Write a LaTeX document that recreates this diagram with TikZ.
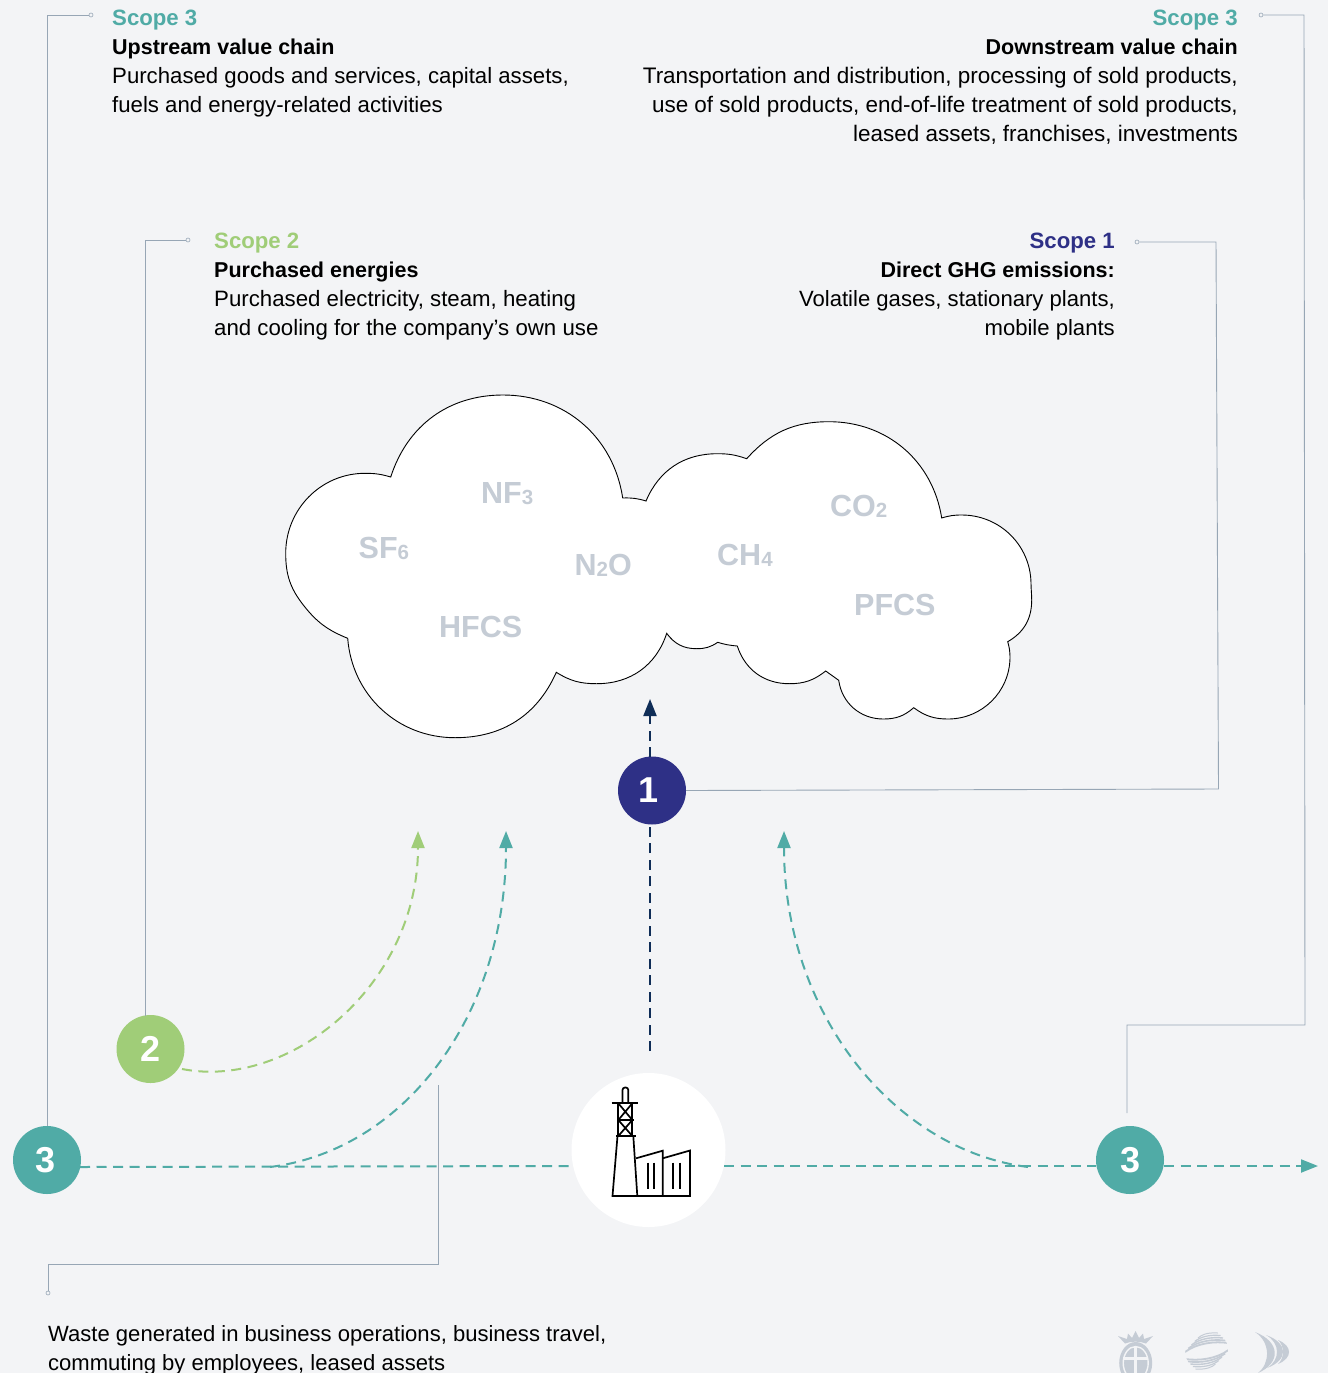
\documentclass[tikz,border=0pt]{standalone}
\usepackage{fontspec}
\setmainfont{Liberation Sans}
\usetikzlibrary{arrows.meta}
\definecolor{bgc}{HTML}{F3F4F6}
\definecolor{teal3}{HTML}{50ABA6}
\definecolor{green2}{HTML}{A0CD78}
\definecolor{navy1}{HTML}{2E3086}
\definecolor{navyd}{HTML}{0F2D57}
\definecolor{leader}{HTML}{97A6B5}
\definecolor{gasc}{HTML}{C5CCD5}
\newcommand{\bodysize}[1]{\fontsize{#1}{29}\selectfont}
\newcommand{\bb}[1]{{\fontsize{21.5}{29}\selectfont\bfseries #1}}
\newcommand{\scp}[2]{{\color{#1}\fontsize{22.2}{29}\selectfont\bfseries #2}}
\newcommand{\gassub}[1]{{\fontsize{20.5}{20}\selectfont\raisebox{-1pt}{#1}}}
\tikzset{
  x=1pt,y=1pt,
  block/.style={inner sep=0pt,text=black},
  blockL/.style={block,anchor=north west,align=left},
  blockR/.style={block,anchor=north east,align=right},
  gas/.style={inner sep=0pt,anchor=base west,font=\fontsize{30.5}{30}\selectfont\bfseries,text=gasc},
  numc/.style={circle,minimum size=68pt,inner sep=0pt,text=white,font=\fontsize{36}{36}\selectfont\bfseries},
  leadl/.style={draw=leader,line width=0.9pt},
  dotc/.style={circle,draw=leader,fill=bgc,line width=0.6pt,minimum size=4pt,inner sep=0pt},
  flowdash/.style={line width=2pt,dash pattern=on 10pt off 6.5pt},
  tipa/.style={-{Triangle[length=17pt,width=13pt]}},
  ico/.style={draw=black,line width=1.7pt},
}
\begin{document}
\begin{tikzpicture}
\useasboundingbox (0,-1373) rectangle (1328,0);
\fill[bgc] (0,-1373) rectangle (1328,0);
\clip (0,-1373) rectangle (1328,0);

% cloud
\draw[fill=white,draw=black,line width=0.9pt]
 (390.7,-477) to[out=72,in=180] (503,-395) to[out=0,in=98.6] (622.7,-498)
 to[out=2,in=163] (646,-501) to[out=67,in=180] (717.3,-453.7) to[out=0,in=161] (746.7,-458.7)
 to[out=48,in=180] (829,-421.7) to[out=0,in=99] (941.7,-518) to[out=17,in=180] (961.7,-515)
 to[out=0,in=91] (1031,-583) to[out=-90,in=90] (1031.7,-600) to[out=-90,in=30] (1007.7,-641.7)
 to[out=-74,in=90] (1010,-658) to[out=-91,in=0] (948,-719) to[out=180,in=-36] (913.7,-707.7)
 to[out=221,in=0] (883.3,-719) to[out=180,in=-82] (838.7,-680.3) to[out=144,in=-36] (825.7,-671)
 to[out=218,in=0] (789.3,-683.7) to[out=180,in=-72] (737.3,-646) to[out=175,in=-17] (717.7,-642.3)
 to[out=214,in=0] (696.7,-648.7) to[out=180,in=-54] (666.7,-633.3) to[out=-108,in=0] (596.7,-683.7)
 to[out=180,in=-32] (556.3,-672.3) to[out=-114,in=0] (455,-737.7) to[out=180,in=-85.6] (347.7,-638.3)
 to[out=158,in=-52] (303.3,-605) to[out=128,in=-90] (285.7,-553.3) to[out=90,in=180] (365,-473.3)
 to[out=0,in=163.6] cycle;

% gases
\node[gas] (nf3) at (481,-503) {NF\gassub{3}};
\node[gas] (sf6) at (358.5,-558) {SF\gassub{6}};
\node[gas] (n2o) at (574.5,-575) {N\gassub{2}O};
\node[gas] (hfcs) at (439,-637) {HFCS};
\node[gas] (co2) at (830,-516) {CO\gassub{2}};
\node[gas] (ch4) at (717,-565) {CH\gassub{4}};
\node[gas] (pfcs) at (854,-615) {PFCS};

% main nodes
\node[numc,fill=navy1] (n1) at (652,-790.5) {\kern-6pt 1};
\node[numc,fill=green2] (n2) at (150.5,-1049) {2};
\node[numc,fill=teal3] (n3a) at (47,-1160) {\kern-3pt 3};
\node[numc,fill=teal3] (n3b) at (1130,-1160) {3};
\node[circle,fill=white,minimum size=154pt,inner sep=0pt] (fac) at (648.5,-1150) {};

% free ends
\coordinate (a1) at (650,-1051);
\coordinate (a1m) at (650,-825);
\coordinate (a1n) at (650,-757);
\coordinate (a1t) at (650,-699);
\coordinate (tlS) at (80,-1167);
\coordinate (tlE) at (572,-1166);
\coordinate (trS) at (724,-1166);
\coordinate (trE) at (1096,-1166);
\coordinate (ttS) at (1164,-1166);
\coordinate (ttE) at (1318,-1166);
\coordinate (c1S) at (270,-1167);
\coordinate (c1E) at (506,-831);
\coordinate (c2S) at (1028,-1167);
\coordinate (c2E) at (784,-831);
\coordinate (c3S) at (182,-1069);
\coordinate (c3E) at (418,-831);

% dashed flows
\draw[flowdash,draw=navyd] (a1) -- (a1m);
\draw[flowdash,draw=navyd,tipa] (a1n) -- (a1t);
\draw[flowdash,draw=teal3] (tlS) -- (tlE);
\draw[flowdash,draw=teal3] (trS) -- (trE);
\draw[flowdash,draw=teal3,tipa] (ttS) -- (ttE);
\draw[flowdash,draw=teal3,tipa] (c1S) .. controls (405,-1150) and (506,-1015) .. (c1E);
\draw[flowdash,draw=teal3,tipa] (c2S) .. controls (895,-1150) and (784,-1015) .. (c2E);
\draw[flowdash,draw=green2,tipa] (c3S) .. controls (290,-1090) and (418,-985) .. (c3E);

% leaders
\node[dotc] (d3l) at (91,-15) {};
\node[dotc] (d2) at (188,-240) {};
\node[dotc] (d3r) at (1261,-15) {};
\node[dotc] (d1) at (1137,-242) {};
\node[dotc] (db) at (48,-1293) {};
\coordinate (lb) at (438,-1085);
\coordinate (l3r) at (1127,-1113);
\coordinate (l2) at (145,-1016);
\draw[leadl] (n3a.north) -- (47,-15) -- (d3l);
\draw[leadl] (l2) -- (145,-240) -- (d2);
\draw[leadl] (l3r) -- (1127,-1025) -- (1305,-1025) -- (1304,-15) -- (d3r);
\draw[leadl] (n1.east) -- (1218.5,-789) -- (1216,-242) -- (d1);
\draw[leadl] (lb) -- (438,-1264) -- (48,-1264) -- (db);

% texts
\node[blockL,font=\bodysize{22.2}] (t3l) at (112,-10) {\scp{teal3}{Scope 3}\\\bb{Upstream value chain}\\Purchased goods and services, capital assets,\\fuels and energy-related activities};
\node[blockR,font=\bodysize{22.47}] (t3r) at (1238,-10) {\scp{teal3}{Scope 3}\\\bb{Downstream value chain}\\Transportation and distribution, processing of sold products,\\use of sold products, end-of-life treatment of sold products,\\leased assets, franchises, investments};
\node[blockL,font=\bodysize{22.25}] (t2) at (214,-233) {\scp{green2}{Scope 2}\\\bb{Purchased energies}\\Purchased electricity, steam, heating\\and cooling for the company’s own use};
\node[blockR,font=\bodysize{22.1}] (t1) at (1115,-233) {\scp{navy1}{Scope 1}\\\bb{Direct GHG emissions:}\\Volatile gases, stationary plants,\\mobile plants};
\node[blockL,font=\bodysize{22.05}] (tb) at (48,-1325) {Waste generated in business operations, business travel,\\commuting by employees, leased assets};

% factory icon
\draw[ico,rounded corners=2.5pt] (622.5,-1102) -- (622.5,-1087.5) -- (628.3,-1087.5) -- (628.3,-1102);
\draw[ico] (611.7,-1103.3) -- (638.3,-1103.3);
\draw[ico] (617,-1120) -- (634,-1120);
\draw[ico] (616,-1136) -- (635.5,-1136);
\draw[ico] (618.3,-1103.3) -- (618.3,-1136) (632.3,-1103.3) -- (632.3,-1136);
\draw[ico] (618.3,-1103.3) -- (632.3,-1120) (632.3,-1103.3) -- (618.3,-1120);
\draw[ico] (618.3,-1120) -- (632.3,-1136) (632.3,-1120) -- (618.3,-1136);
\draw[ico] (617.5,-1136) -- (612.5,-1196) -- (690,-1196) -- (690,-1150.5) -- (662.7,-1158.3);
\draw[ico] (633.3,-1136) -- (637.3,-1196);
\draw[ico] (636,-1158.3) -- (662.7,-1150.7) -- (662.7,-1196);
\draw[ico] (648,-1162.7) -- (648,-1189.3) (654.3,-1162.7) -- (654.3,-1189.3)
 (673.3,-1162.7) -- (673.3,-1189.3) (680.3,-1162.7) -- (680.3,-1189.3);

% logo 1
\fill[gasc] (1135.7,-1363) ellipse (16.5 and 21);
\draw[draw=bgc,line width=1.4pt] (1135.7,-1363) ellipse (12.5 and 16.5);
\draw[draw=bgc,line width=3pt] (1135.7,-1347) -- (1135.7,-1373) (1123,-1358.5) -- (1148,-1358.5);
\fill[gasc] (1118,-1336) -- (1127,-1339) -- (1128,-1333.5) -- (1132,-1338) -- (1135.5,-1331) -- (1139,-1338) -- (1143,-1333.5) -- (1144,-1339) -- (1153,-1336) -- (1146,-1343.5) .. controls (1140,-1341) and (1131,-1341) .. (1125,-1343.5) -- cycle;
% logo 2
\begin{scope}
\clip (1206.7,-1351) circle (21.5);
\foreach \k/\w in {0/1.8,1/1.6,2/1.4,3/1.2,4/1.0}{
  \draw[draw=gasc,line width=\w pt] (1228-2.5*\k,-1343+2.5*\k) .. controls (1215-2*\k,-1341+2.2*\k) and (1197+\k,-1343+2*\k) .. (1185+3.25*\k,-1352+3.5*\k);
}
\begin{scope}[rotate around={180:(1206.7,-1351)}]
\foreach \k/\w in {0/1.8,1/1.6,2/1.4,3/1.2,4/1.0}{
  \draw[draw=gasc,line width=\w pt] (1228-2.5*\k,-1343+2.5*\k) .. controls (1215-2*\k,-1341+2.2*\k) and (1197+\k,-1343+2*\k) .. (1185+3.25*\k,-1352+3.5*\k);
}
\end{scope}
\end{scope}
% logo 3
\fill[gasc] (1255,-1332) .. controls (1280.8,-1342) and (1280.8,-1363) .. (1258,-1373) .. controls (1270.5,-1363) and (1270.5,-1342) .. cycle;
\fill[gasc] (1266,-1335) .. controls (1288.5,-1343) and (1288.5,-1360) .. (1267,-1368) .. controls (1280.5,-1360) and (1280.5,-1343) .. cycle;
\fill[gasc] (1278,-1340) .. controls (1292.7,-1346) and (1292.7,-1358) .. (1278,-1364) .. controls (1284.7,-1358) and (1284.7,-1346) .. cycle;
\end{tikzpicture}
\end{document}
